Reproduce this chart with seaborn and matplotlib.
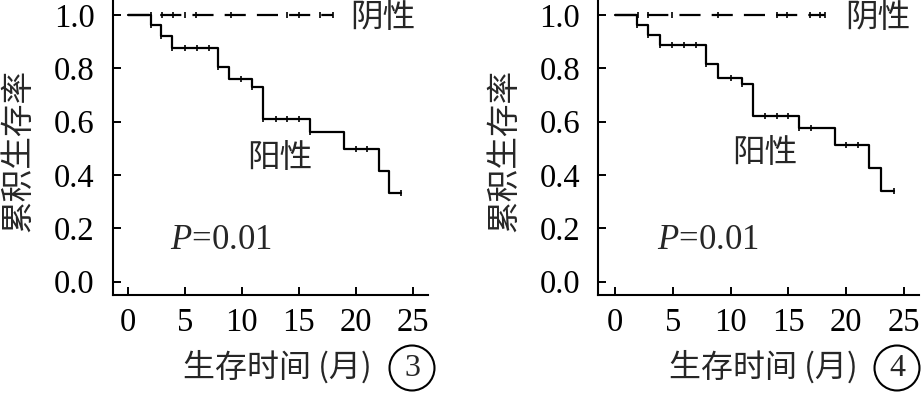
import numpy as np
import matplotlib
matplotlib.use("Agg")
import matplotlib.pyplot as plt
import seaborn as sns

# ---------------- data ----------------
# Panel 3
pos3_times = [0, 2.0, 2.9, 3.9, 7.9, 8.9, 10.9, 11.9, 16.0, 19.0, 22.0, 22.9, 24.0]
pos3_surv = [1.0, 0.962, 0.921, 0.877, 0.806, 0.759, 0.729, 0.610, 0.560, 0.497, 0.416, 0.334, 0.334]
pos3_cens = [2.0, 2.9, 3.9, 5.0, 6.1, 7.1, 7.9, 9.9, 10.9, 11.9, 13.0, 14.0, 15.0, 16.0, 20.0, 21.0, 24.0]
neg3_times = [0, 18.0]
neg3_surv = [1.0, 1.0]
neg3_cens = [2.0, 3.0, 3.95, 5.0, 6.0, 9.1, 14.0, 15.0, 16.9, 18.0]

# Panel 4
pos4_times = [0, 1.9, 2.9, 3.9, 7.9, 8.9, 11.0, 11.9, 15.9, 19.0, 22.0, 23.0, 24.1]
pos4_surv = [1.0, 0.962, 0.925, 0.887, 0.815, 0.765, 0.740, 0.621, 0.577, 0.512, 0.427, 0.340, 0.340]
pos4_cens = [1.9, 2.9, 3.9, 4.9, 6.0, 7.0, 7.9, 10.0, 11.0, 13.0, 14.0, 15.0, 15.9, 17.0, 20.0, 21.0, 24.1]
neg4_times = [0, 18.2]
neg4_surv = [1.0, 1.0]
neg4_cens = [2.0, 2.9, 4.9, 8.9, 14.0, 14.9, 16.9, 17.7, 18.2]

x_ticks = [0, 5, 10, 15, 20, 25]
y_ticks = [0.0, 0.2, 0.4, 0.6, 0.8, 1.0]
y_label = "累积生存率"
x_label = "生存时间 (月)"
neg_label = "阴性"
pos_label = "阳性"
p_text = r"$P$=0.01"
panel_nums = ["3", "4"]

# ---------------- style ----------------
sns.set_style("ticks")
plt.rcParams["font.family"] = ["Liberation Serif", "Noto Sans CJK SC", "DejaVu Sans"]
plt.rcParams["mathtext.fontset"] = "custom"
plt.rcParams["mathtext.it"] = "Liberation Serif:italic"
plt.rcParams["mathtext.rm"] = "Liberation Serif"
CJK = ["Noto Sans CJK SC", "DejaVu Sans"]

W, H = 921, 397
fig = plt.figure(figsize=(W / 100, H / 100), dpi=100)

def step_val(times, surv, t):
    i = np.searchsorted(np.array(times), t, side="right") - 1
    return np.array(surv)[i]

panels = [
    dict(left=112.7, width=315.3, xlim=(-1.32, 26.34),
         pos=(pos3_times, pos3_surv, pos3_cens), neg=(neg3_times, neg3_surv, neg3_cens),
         neg_xy=(19.5, 0.99), pos_xy=(10.5, 0.464), p_xy=(3.7, 0.156),
         ylab_x=18, xlab_x=277, circ_x=412),
    dict(left=598.3, width=320.7, xlim=(-1.44, 26.3),
         pos=(pos4_times, pos4_surv, pos4_cens), neg=(neg4_times, neg4_surv, neg4_cens),
         neg_xy=(19.9, 0.99), pos_xy=(10.1, 0.481), p_xy=(3.6, 0.156),
         ylab_x=504, xlab_x=763, circ_x=897),
]

for k, p in enumerate(panels):
    ax = fig.add_axes([p["left"] / W, 102 / H, p["width"] / W, 295 / H])
    for (times, surv, cens), dashed in [(p["neg"], True), (p["pos"], False)]:
        sns.lineplot(x=times, y=surv, drawstyle="steps-post", estimator=None, sort=False,
                     color="black", linewidth=1.6, ax=ax, legend=False)
        if dashed:
            ax.lines[-1].set_dashes([9.5, 5.0])
        cy = [step_val(times, surv, t) for t in cens]
        sns.scatterplot(x=cens, y=cy, marker="|", s=22, color="black",
                        linewidth=1.2, ax=ax, legend=False, zorder=3)
    ax.set_xlim(*p["xlim"])
    ax.set_ylim(-0.05, 1.056)
    ax.set_xticks(x_ticks)
    ax.set_xticklabels([str(v) for v in x_ticks])
    ax.set_yticks(y_ticks)
    ax.set_yticklabels([f"{v:.1f}" for v in y_ticks])
    ax.tick_params(axis="both", direction="in", length=6, width=1.4, labelsize=23.5,
                   colors="black")
    ax.tick_params(axis="y", pad=13)
    ax.tick_params(axis="x", pad=9)
    for s in ["top", "right"]:
        ax.spines[s].set_visible(False)
    for s in ["left", "bottom"]:
        ax.spines[s].set_linewidth(1.5)
        ax.spines[s].set_color("black")
    ax.set_xlabel("")
    ax.set_ylabel("")

    ax.text(p["neg_xy"][0], p["neg_xy"][1], neg_label, family=CJK, fontsize=23.5,
            ha="left", va="center", clip_on=False)
    ax.text(p["pos_xy"][0], p["pos_xy"][1], pos_label, family=CJK, fontsize=23.5,
            ha="left", va="center")
    ax.text(p["p_xy"][0], p["p_xy"][1], p_text, fontsize=25, ha="left", va="center")

    fig.text(p["ylab_x"] / W, 1 - 150 / H, y_label, family=CJK, fontsize=23.5,
             rotation=90, ha="center", va="center")
    fig.text(p["xlab_x"] / W, 1 - 367 / H, x_label, family=CJK, fontsize=23,
             ha="center", va="center")
    fig.text(p["circ_x"] / W, 1 - 368 / H, panel_nums[k], fontsize=23,
             ha="center", va="center",
             bbox=dict(boxstyle="circle,pad=0.25", fc="none", ec="black", lw=1.5))

fig.savefig("out.png", dpi=100)
